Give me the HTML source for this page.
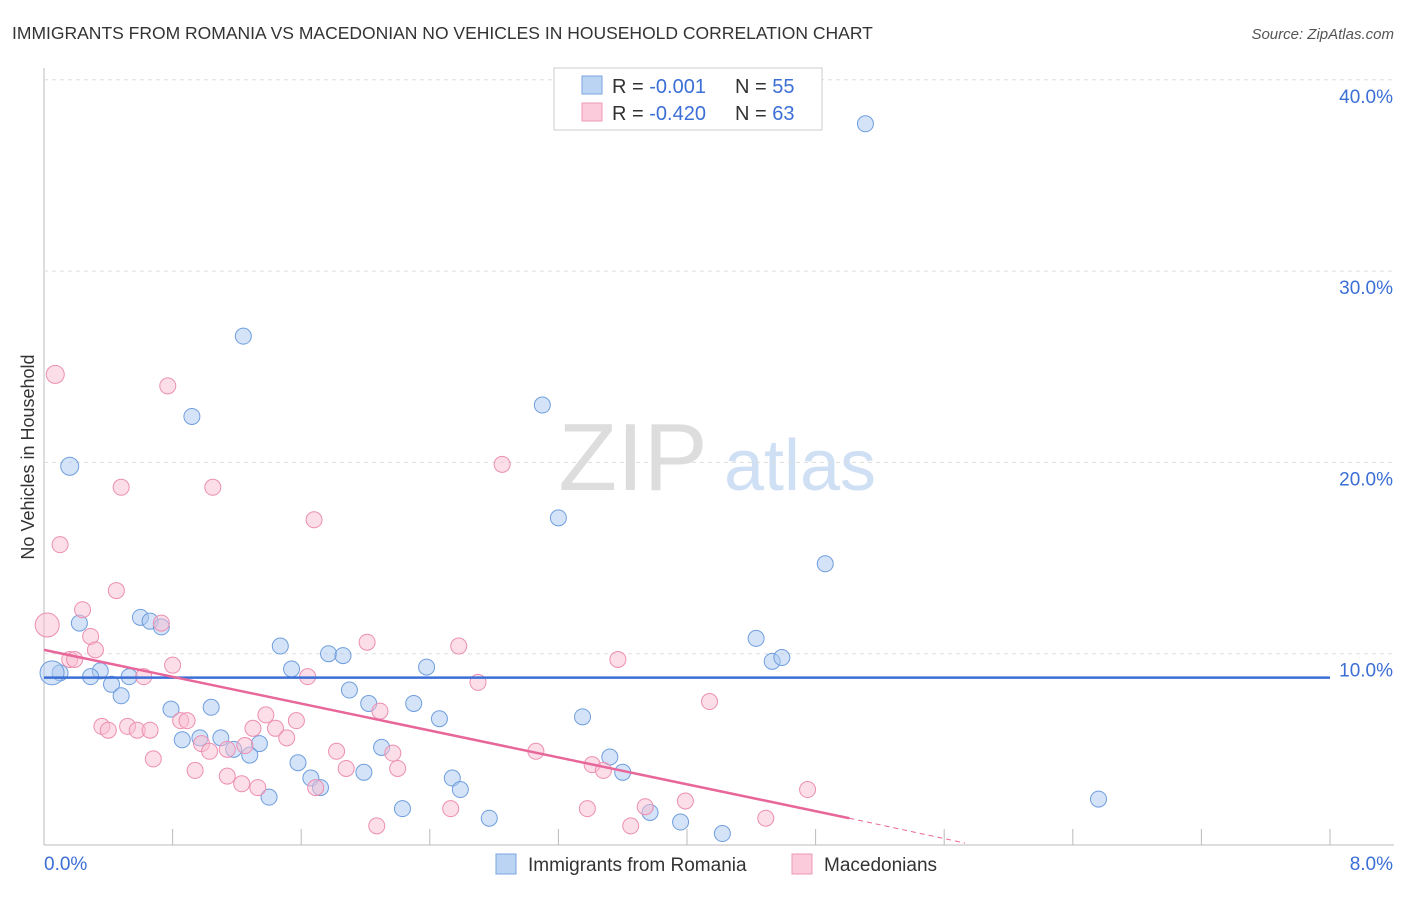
<!DOCTYPE html>
<html><head><meta charset="utf-8"><style>
body{margin:0;background:#fff;font-family:"Liberation Sans",sans-serif}
svg text{font-family:"Liberation Sans",sans-serif}
</style></head><body>
<svg id="c" width="1406" height="892">
<text x="12" y="39" font-size="17.5" fill="#333">IMMIGRANTS FROM ROMANIA VS MACEDONIAN NO VEHICLES IN HOUSEHOLD CORRELATION CHART</text>
<text x="1394" y="39" font-size="15" fill="#555" font-style="italic" text-anchor="end">Source: ZipAtlas.com</text>
<text x="34" y="457" font-size="18" fill="#333" text-anchor="middle" transform="rotate(-90 34 457)">No Vehicles in Household</text>
<g><text x="633" y="490" font-size="96" fill="#ddd" font-family="Liberation Serif" text-anchor="middle">ZIP</text><text x="800" y="490" font-size="72" fill="#cfe0f5" text-anchor="middle">atlas</text></g>
<g id="grid"></g><g id="marks"></g>
<g>
<rect x="554" y="68" width="268" height="62" fill="#fff" stroke="#ccc"/>
<rect x="582" y="76" width="20" height="18" fill="#bcd4f4" stroke="#7aa6e0"/>
<rect x="582" y="103" width="20" height="18" fill="#fbcadb" stroke="#ee9ab8"/>
<text x="612" y="93" font-size="20" fill="#333">R = <tspan fill="#3b6fd6">-0.001</tspan></text>
<text x="735" y="93" font-size="20" fill="#333">N = <tspan fill="#3b6fd6">55</tspan></text>
<text x="612" y="120" font-size="20" fill="#333">R = <tspan fill="#3b6fd6">-0.420</tspan></text>
<text x="735" y="120" font-size="20" fill="#333">N = <tspan fill="#3b6fd6">63</tspan></text>
</g>
<g>
<rect x="496" y="854" width="20" height="20" fill="#bcd4f4" stroke="#7aa6e0"/>
<text x="528" y="871" font-size="19" fill="#333">Immigrants from Romania</text>
<rect x="792" y="854" width="20" height="20" fill="#fbcadb" stroke="#ee9ab8"/>
<text x="824" y="871" font-size="19" fill="#333">Macedonians</text>
</g>
</svg>
<script>
const xTicks=[0,0.8,1.6,2.4,3.2,4,4.8,5.6,6.4,7.2,8];
const yTicks=[10,20,30,40];
const blueX=[5.11,1.24,0.92,3.10,0.16,3.20,4.86,0.22,0.60,0.66,0.73,4.43,4.53,4.59,1.47,1.77,1.86,1.54,2.38,0.35,0.10,0.05,0.29,0.53,0.42,1.90,0.48,1.04,0.79,2.02,2.30,2.46,3.35,0.86,1.10,0.97,1.34,1.18,1.28,2.10,1.58,1.66,3.52,3.60,1.99,2.54,2.59,1.72,1.40,2.23,2.77,3.77,3.96,4.22,6.56];
const blueY=[37.7,26.6,22.4,23.0,19.8,17.1,14.7,11.6,11.9,11.7,11.4,10.8,9.6,9.8,10.4,10.0,9.9,9.2,9.3,9.1,9.0,9.0,8.8,8.8,8.4,8.1,7.8,7.2,7.1,7.4,7.4,6.6,6.7,5.5,5.6,5.6,5.3,5.0,4.7,5.1,4.3,3.5,4.6,3.8,3.8,3.5,2.9,3.0,2.5,1.9,1.4,1.7,1.2,0.6,2.4];
const blueR=[8,8,8,8,9,8,8,8,8,8,8,8,8,8,8,8,8,8,8,8,8,12,8,8,8,8,8,8,8,8,8,8,8,8,8,8,8,8,8,8,8,8,8,8,8,8,8,8,8,8,8,8,8,8,8];
const pinkX=[0.07,0.77,2.85,0.48,1.05,1.68,0.10,0.45,0.24,0.73,0.02,0.29,2.01,2.58,0.32,0.16,0.19,3.57,0.80,0.62,1.64,2.70,4.14,2.09,1.38,0.85,0.89,1.57,0.36,0.40,0.52,0.58,0.66,1.44,1.30,1.51,0.98,1.25,1.14,1.03,1.82,2.17,0.68,3.06,1.88,2.20,3.41,3.48,0.94,1.14,1.23,1.33,1.69,4.75,3.99,3.74,3.38,2.53,2.07,3.65,4.49];
const pinkY=[24.6,24.0,19.9,18.7,18.7,17.0,15.7,13.3,12.3,11.6,11.5,10.9,10.6,10.4,10.2,9.7,9.7,9.7,9.4,8.8,8.8,8.5,7.5,7.0,6.8,6.5,6.5,6.5,6.2,6.0,6.2,6.0,6.0,6.1,6.1,5.6,5.3,5.2,5.0,4.9,4.9,4.8,4.5,4.9,4.0,4.0,4.2,3.9,3.9,3.6,3.2,3.0,3.0,2.9,2.3,2.0,1.9,1.9,1.0,1.0,1.4];
const pinkR=[9,8,8,8,8,8,8,8,8,8,12,8,8,8,8,8,8,8,8,8,8,8,8,8,8,8,8,8,8,8,8,8,8,8,8,8,8,8,8,8,8,8,8,8,8,8,8,8,8,8,8,8,8,8,8,8,8,8,8,8,8];
const X=v=>44+v/8*1286, Y=v=>845-v*19.13;
const NS='http://www.w3.org/2000/svg';
function mk(t,a,p){const e=document.createElementNS(NS,t);for(const k in a)e.setAttribute(k,a[k]);p.appendChild(e);return e;}
const g=document.getElementById('grid'), m=document.getElementById('marks');
let ax=mk('line',{x1:44,y1:68,x2:44,y2:845,stroke:'#bbb'},g);

let bx=mk('line',{x1:44,y1:845,x2:1394,y2:845,stroke:'#bbb'},g);

xTicks.forEach(v=>{let t=mk('line',{x1:X(v),y1:829,x2:X(v),y2:845,stroke:'#bbb'},g);
});
yTicks.forEach(v=>{let l=mk('line',{x1:44,y1:Y(v),x2:1394,y2:Y(v),stroke:'#ddd','stroke-dasharray':'4 4'},g);

let t=mk('text',{x:1393,y:Y(v)+23,'font-size':19,fill:'#3b6fd6','text-anchor':'end'},g);t.textContent=v.toFixed(1)+'%';
});
let x0=mk('text',{x:44,y:870,'font-size':19,fill:'#3b6fd6'},g);x0.textContent='0.0%';

let x1=mk('text',{x:1393,y:870,'font-size':19,fill:'#3b6fd6','text-anchor':'end'},g);x1.textContent='8.0%';

blueX.forEach((v,i)=>{let c=mk('circle',{cx:X(v),cy:Y(blueY[i]),r:blueR[i],fill:'rgba(170,200,240,0.5)',stroke:'#6f9ede','stroke-width':1},m);
});
pinkX.forEach((v,i)=>{let c=mk('circle',{cx:X(v),cy:Y(pinkY[i]),r:pinkR[i],fill:'rgba(250,190,210,0.5)',stroke:'#ec8fb1','stroke-width':1},m);
});
let bl=mk('line',{x1:X(0),y1:Y(8.75),x2:X(8),y2:Y(8.75),stroke:'#3b6fd6','stroke-width':2.5},m);

let pl=mk('line',{x1:X(0),y1:Y(10.2),x2:X(5.01),y2:Y(1.4),stroke:'#e8679a','stroke-width':2.5},m);

let pd=mk('line',{x1:X(5.01),y1:Y(1.4),x2:X(5.73),y2:Y(0.1),stroke:'#e8679a','stroke-width':1,'stroke-dasharray':'5 4'},m);

</script>
</body></html>
